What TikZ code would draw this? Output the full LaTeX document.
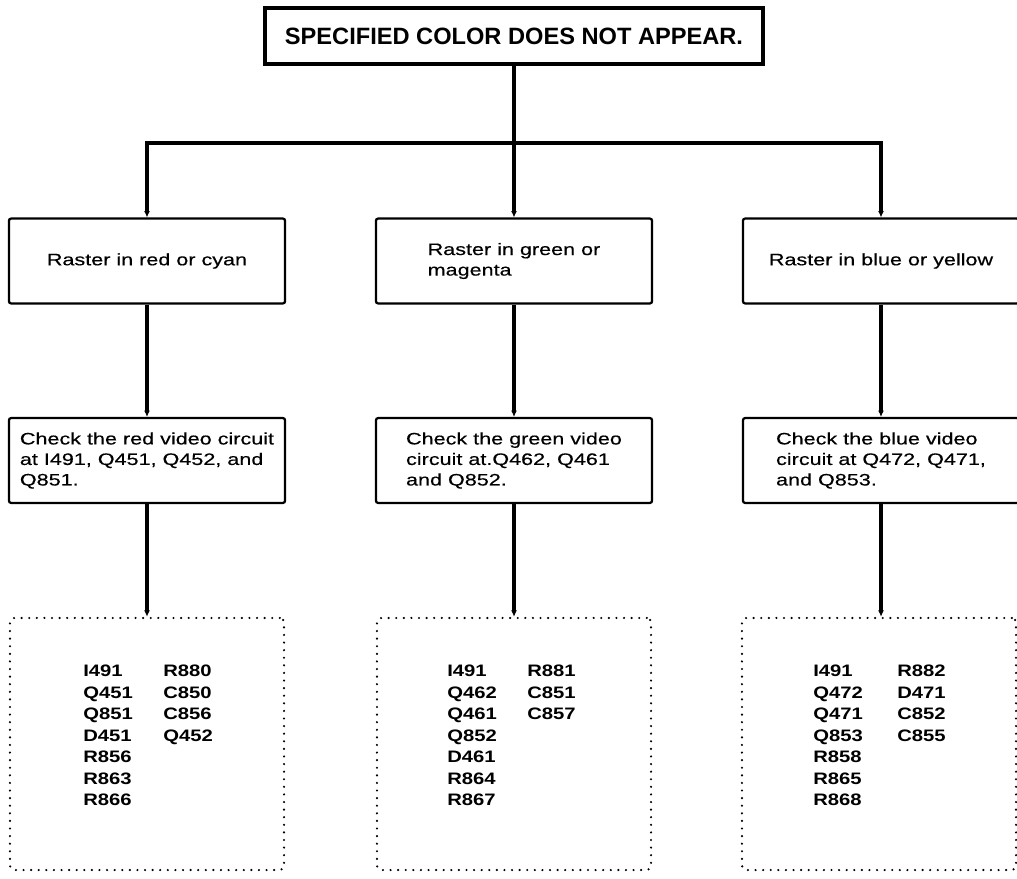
\documentclass[tikz,border=0pt]{standalone}
\usepackage{fontspec}
\setmainfont{Liberation Sans}
\newfontfamily\boxfont[FakeStretch=1.3,FakeBold=0.4]{Liberation Sans}
\newfontfamily\partsfont[FakeStretch=1.22]{Liberation Sans}
\usetikzlibrary{arrows.meta}

\begin{document}
\begin{tikzpicture}[x=0.025cm,y=-0.025cm,
  titlebox/.style={draw,line width=2.8pt,minimum width=12.45cm,minimum height=1.4cm,inner sep=0pt,font=\bfseries\fontsize{16.8}{20}\selectfont},
  stepbox/.style={draw,line width=1.6pt,rounded corners=1.5pt,minimum width=6.9cm,minimum height=2.12cm,inner sep=0pt,align=left,font=\boxfont\fontsize{11.8}{14.6}\selectfont},
  partsbox/.style={draw,line width=1.7pt,line cap=round,dash pattern=on 0pt off 5.4pt,rounded corners=3pt,minimum width=6.85cm,minimum height=6.3cm,inner sep=0pt},
  partlist/.style={anchor=north west,inner sep=0pt,align=left,font=\partsfont\bfseries\fontsize{11.8}{15.3}\selectfont},
  flow/.style={line width=2.4pt,-{Latex[length=1.6mm,width=1.5mm]}}]
\useasboundingbox (0,0) rectangle (1017,879);
\clip (0,0) rectangle (1017,879);
% top
\node[titlebox] (title) at (514,36) {SPECIFIED COLOR DOES NOT APPEAR.};
\coordinate (split) at (514,143);
% raster colour
\node[stepbox] (rasterL) at (147,261) {Raster in red or cyan};
\node[stepbox] (rasterM) at (514,261) {Raster in green or\\magenta};
\node[stepbox] (rasterR) at (881,261) {Raster in blue or yellow};
% circuits to check
\node[stepbox] (checkL) at (147,460.5) {Check the red video circuit\\at I491, Q451, Q452, and\\Q851.};
\node[stepbox] (checkM) at (514,460.5) {Check the green video\\circuit at.Q462, Q461\\and Q852.};
\node[stepbox] (checkR) at (881,460.5) {Check the blue video\\circuit at Q472, Q471,\\and Q853.};
% parts
\node[partsbox] (partsL) at (147,744) {};
\node[partsbox] (partsM) at (514,744) {};
\node[partsbox] (partsR) at (879,744) {};
\node[partlist] (listLa) at (83,665) {I491\\Q451\\Q851\\D451\\R856\\R863\\R866};
\node[partlist] (listLb) at (163,665) {R880\\C850\\C856\\Q452};
\node[partlist] (listMa) at (447,665) {I491\\Q462\\Q461\\Q852\\D461\\R864\\R867};
\node[partlist] (listMb) at (527,665) {R881\\C851\\C857};
\node[partlist] (listRa) at (813,665) {I491\\Q472\\Q471\\Q853\\R858\\R865\\R868};
\node[partlist] (listRb) at (897,665) {R882\\D471\\C852\\C855};
% connectors
\draw[line width=2.4pt] (title.south) -- (split);
\draw[flow] (split) -| (rasterL.north);
\draw[flow] (split) -- (rasterM.north);
\draw[flow] (split) -| (rasterR.north);
\draw[flow] (rasterL) -- (checkL);
\draw[flow] (rasterM) -- (checkM);
\draw[flow] (rasterR) -- (checkR);
\draw[flow] (checkL) -- (partsL);
\draw[flow] (checkM) -- (partsM);
\draw[flow] (checkR.south) -- (checkR.south |- partsR.north);
\end{tikzpicture}
\end{document}
